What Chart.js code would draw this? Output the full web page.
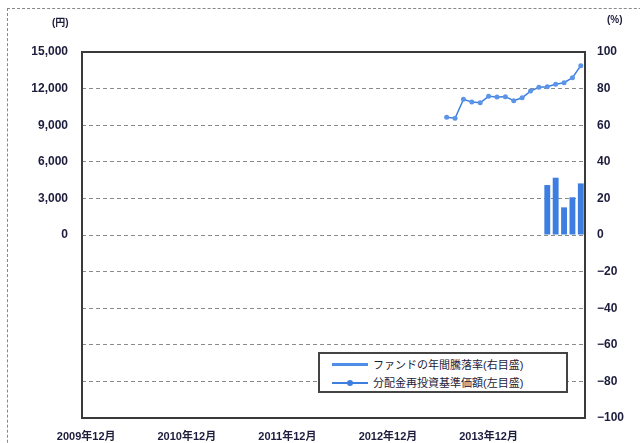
<!DOCTYPE html>
<html lang="ja">
<head>
<meta charset="utf-8">
<script src="https://cdn.jsdelivr.net/npm/chart.js@4"></script>
<style>
  html, body { margin: 0; padding: 0; background: #fff; overflow: hidden; }
  #wrap { position: relative; width: 640px; height: 443px; font-family: "Liberation Sans", "Noto Sans CJK JP", sans-serif; }
  #frame { position: absolute; left: 7px; top: 8px; width: 700px; height: 500px; border: 1px dashed #888; box-sizing: border-box; }
  canvas { position: absolute; left: 0; top: 0; }
  .unit { position: absolute; top: 14px; font-size: 10px; font-weight: bold; color: #1c1c3c; }
  #legend { position: absolute; left: 318px; top: 352px; width: 250px; height: 41px; border: 2px solid #444; box-sizing: border-box; background: #fff; font-size: 11px; color: #1c1c3c; }
  .item { position: absolute; left: 12px; height: 14px; line-height: 14px; white-space: nowrap; }
  .sw { display: inline-block; width: 36px; height: 14px; position: relative; vertical-align: top; margin-right: 5px; }
  .sw.bar::after { content: ""; position: absolute; left: 0; right: 0; top: 5px; height: 3px; background: #4f8ee6; }
  .sw.line::before { content: ""; position: absolute; left: 0; right: 0; top: 6px; height: 1.5px; background: #3d7ee0; }
  .sw.line::after { content: ""; position: absolute; left: 15px; top: 4px; width: 6px; height: 6px; border-radius: 50%; background: #3d7ee0; }
</style>
</head>
<body>
<div id="wrap">
  <div id="frame"></div>
  <canvas id="chart" width="640" height="443"></canvas>
  <div class="unit" style="left:52px">(円)</div>
  <div class="unit" style="left:607px">(%)</div>
  <div id="legend">
    <div class="item" style="top:4px"><span class="sw bar"></span>ファンドの年間騰落率(右目盛)</div>
    <div class="item" style="top:22px"><span class="sw line"></span>分配金再投資基準価額(左目盛)</div>
  </div>
</div>
<script>
// monthly categories, 2009年12月 .. 2014年11月
const START_YEAR = 2009;
const START_MONTH = 12;
const MONTH_COUNT = 60;

// 分配金再投資基準価額 (円), 2013年7月 .. 2014年11月
const NAV_START = 43;
const navValues = [9650, 9570, 11120, 10900, 10840, 11370, 11310, 11340, 11010, 11250, 11800, 12110, 12160, 12350, 12480, 12890, 13880];

// ファンドの年間騰落率 (%), 2014年7月 .. 2014年11月
const RET_START = 55;
const returnValues = [27.3, 31.3, 15.1, 20.6, 28.2];

const BLUE = "#3d7ee0";
const TEXT = "#1c1c3c";
const FONT = '"Liberation Sans", "Noto Sans CJK JP", sans-serif';

const labels = [];
for (let i = 0; i < MONTH_COUNT; i++) {
  const m = (START_MONTH - 1 + i) % 12 + 1;
  const y = START_YEAR + Math.floor((START_MONTH - 1 + i) / 12);
  labels.push(`${y}年${m}月`);
}

function padSeries(values, start) {
  const out = new Array(MONTH_COUNT).fill(null);
  values.forEach((v, i) => { out[start + i] = v; });
  return out;
}

const plotBorder = {
  id: "plotBorder",
  afterDatasetsDraw(chart) {
    const { ctx, chartArea: a } = chart;
    ctx.save();
    ctx.strokeStyle = "#3a3a3a";
    ctx.lineWidth = 2;
    ctx.strokeRect(a.left, a.top, a.right - a.left, a.bottom - a.top);
    ctx.restore();
  },
};

new Chart(document.getElementById("chart"), {
  data: {
    labels,
    datasets: [
      {
        type: "line",
        label: "分配金再投資基準価額(左目盛)",
        data: padSeries(navValues, NAV_START),
        yAxisID: "y",
        borderColor: BLUE,
        backgroundColor: "#5b95e8",
        borderWidth: 1.5,
        pointRadius: 2.5,
        pointBorderWidth: 0,
        spanGaps: false,
        order: 0,
      },
      {
        type: "bar",
        label: "ファンドの年間騰落率(右目盛)",
        data: padSeries(returnValues, RET_START),
        yAxisID: "y2",
        backgroundColor: BLUE,
        borderWidth: 0,
        barPercentage: 0.7,
        categoryPercentage: 1,
        order: 1,
      },
    ],
  },
  options: {
    responsive: false,
    animation: false,
    layout: { padding: { left: 0, right: 0, top: 52, bottom: 0 } },
    plugins: { legend: { display: false }, tooltip: { enabled: false } },
    scales: {
      x: {
        grid: { display: false, drawTicks: false },
        border: { display: false },
        afterFit(scale) { scale.height = 25; },
        ticks: {
          autoSkip: false,
          maxRotation: 0,
          padding: 12,
          color: TEXT,
          font: { family: FONT, size: 11, weight: "bold" },
          callback(v, i) { return i % 12 === 0 ? labels[i] : ""; },
        },
      },
      y: {
        position: "left",
        min: -15000,
        max: 15000,
        afterFit(scale) { scale.width = 82; },
        grid: { display: false, drawTicks: false },
        border: { display: false },
        ticks: {
          stepSize: 3000,
          padding: 14,
          color: TEXT,
          font: { family: FONT, size: 12, weight: "bold" },
          callback(v) { return v >= 0 ? v.toLocaleString("en-US") : ""; },
        },
      },
      y2: {
        position: "right",
        min: -100,
        max: 100,
        afterFit(scale) { scale.width = 55; },
        grid: { color: "#8a8a8a", lineWidth: 1, drawTicks: false },
        border: { display: false, dash: [4, 3] },
        ticks: {
          stepSize: 20,
          padding: 12,
          color: TEXT,
          font: { family: FONT, size: 12, weight: "bold" },
          callback(v) { return v < 0 ? "\u2212" + Math.abs(v) : String(v); },
        },
      },
    },
  },
  plugins: [plotBorder],
});
</script>
</body>
</html>
